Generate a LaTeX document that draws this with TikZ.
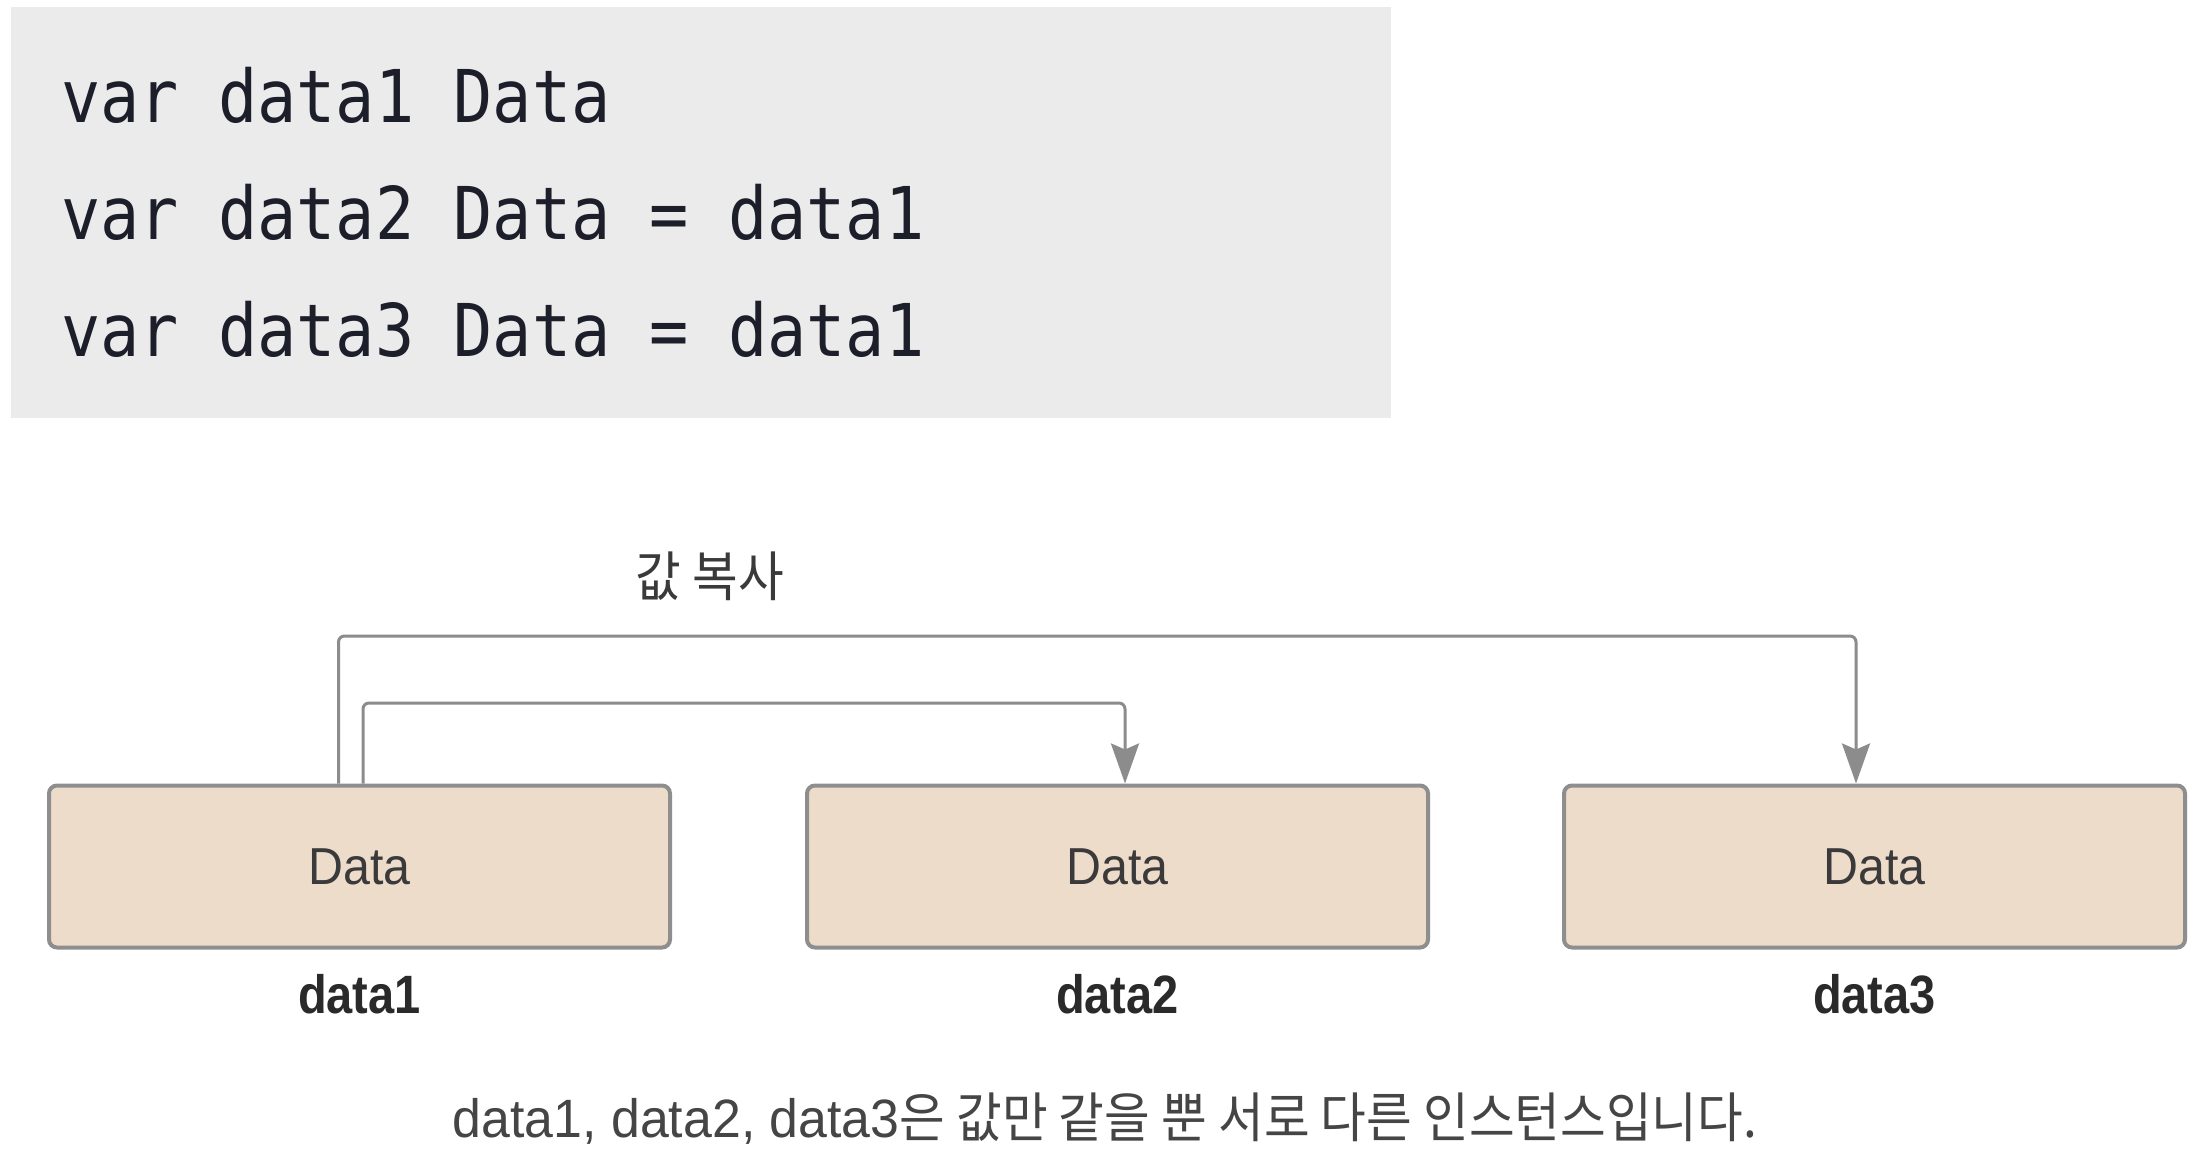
\documentclass[tikz,border=0pt]{standalone}
\usepackage{fontspec}
\usetikzlibrary{arrows.meta,calc}
\newfontfamily\codefont[FakeStretch=0.895]{DejaVu Sans Mono}
\newfontfamily\krfont[FakeStretch=0.92]{Noto Sans CJK KR}
\newfontfamily\boxfont[FakeStretch=0.93]{Liberation Sans}
\newfontfamily\lblfont[FakeStretch=0.87]{Liberation Sans}
\newfontfamily\capfont[FakeStretch=0.96]{Liberation Sans}
\definecolor{codebg}{HTML}{EBEBEC}
\definecolor{codetxt}{HTML}{1C1E2A}
\definecolor{boxfill}{HTML}{EEDCCB}
\definecolor{boxline}{HTML}{8E8E8E}
\definecolor{boxtext}{HTML}{3A3A3A}
\definecolor{lbltext}{HTML}{2A2A2A}
\definecolor{arrgray}{HTML}{8C8C8C}
\definecolor{captext}{HTML}{454545}
\begin{document}
\begin{tikzpicture}[x=0.5pt,y=-0.5pt,
  codeline/.style={anchor=base west, inner sep=0pt, text=codetxt,
    font=\codefont\fontsize{36.4pt}{40pt}\selectfont},
  databox/.style={draw=boxline, line width=2pt, fill=boxfill, rounded corners=4pt,
    minimum width=310.5pt, minimum height=81pt, inner sep=0pt, text=boxtext,
    font=\boxfont\fontsize{26pt}{30pt}\selectfont},
  varlabel/.style={anchor=base, inner sep=0pt, text=lbltext,
    font=\lblfont\bfseries\fontsize{27pt}{30pt}\selectfont},
  arr/.style={draw=arrgray, line width=1.5pt, rounded corners=3pt,
    -{Stealth[length=20pt,width=14pt,inset=3pt]}}]
\useasboundingbox (0,0) rectangle (2198,1160);
\fill[white] (0,0) rectangle (2198,1160);

% code block
\node[fill=codebg, minimum width=690pt, minimum height=205.5pt, inner sep=0pt] (code) at (701,212.5) {};
\node[codeline] (l1) at (61,123) {var data1 Data};
\node[codeline] (l2) at (61,240) {var data2 Data = data1};
\node[codeline] (l3) at (61,357) {var data3 Data = data1};

% boxes
\node[databox] (b1) at (359.5,866.5) {Data};
\node[databox] (b2) at (1117.5,866.5) {Data};
\node[databox] (b3) at (1874.5,866.5) {Data};

% labels
\node[varlabel] (n1) at (359.5,1013) {data1};
\node[varlabel] (n2) at (1117.5,1013) {data2};
\node[varlabel] (n3) at (1874.5,1013) {data3};

% copy label
\node[inner sep=0pt, text=boxtext, font=\krfont\fontsize{27pt}{30pt}\selectfont] (copy) at (710,576) {값 복사};

% connectors
\coordinate (s1) at ($(b1.north)+(-21,0)$);
\coordinate (s2) at ($(b1.north)+(3.5,0)$);
\coordinate (t3) at ($(b3.north)+(-18.5,0)$);
\coordinate (t2) at ($(b2.north)+(7.5,0)$);
\coordinate (h1) at (0,636);
\coordinate (h2) at (0,703);
\draw[arr] (s1) -- (s1 |- h1) -- (t3 |- h1) -- (t3);
\draw[arr] (s2) -- (s2 |- h2) -- (t2 |- h2) -- (t2);

% caption
\node[anchor=base, inner sep=0pt, text=captext, font=\capfont\fontsize{27pt}{30pt}\selectfont] (cap) at (1105,1137)
  {data1, data2, data3{\krfont\fontsize{27pt}{30pt}\selectfont 은 값만 같을 뿐 서로 다른 인스턴스입니다.}};
\end{tikzpicture}
\end{document}
